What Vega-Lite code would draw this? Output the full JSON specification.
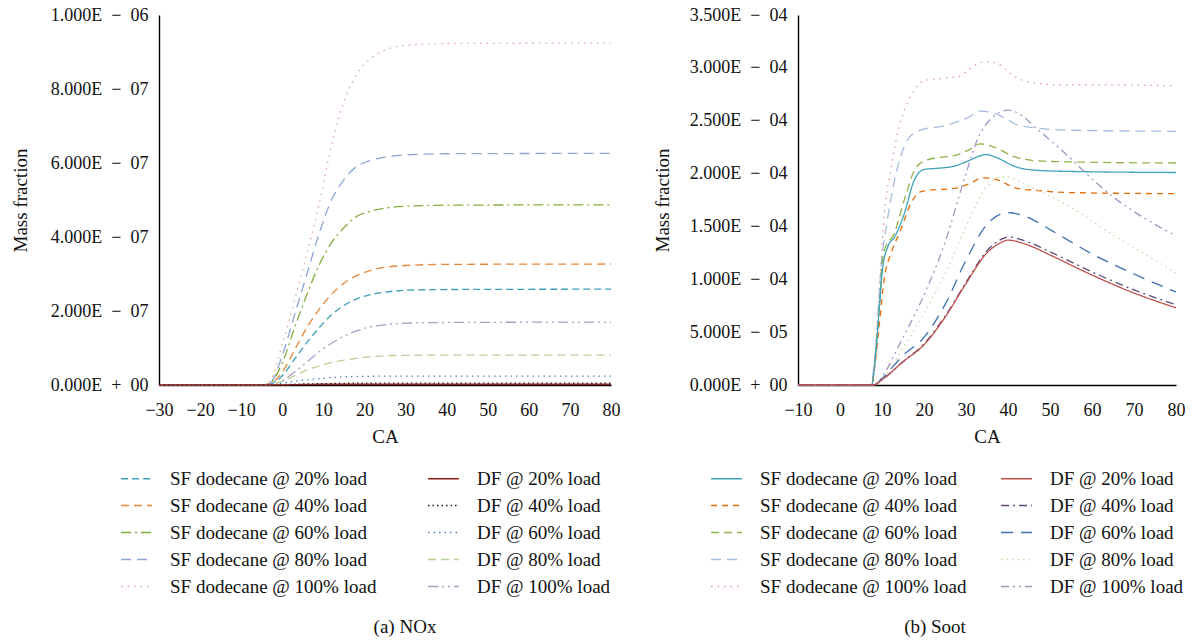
{
  "$schema": "https://vega.github.io/schema/vega-lite/v6.json",
  "background": "white",
  "padding": {"left": 11, "top": 6, "right": 0, "bottom": 0},
  "config": {
    "view": {"stroke": null},
    "font": "Liberation Serif",
    "axis": {"grid": false, "ticks": false, "domainColor": "#000", "domainWidth": 1.4, "labelFont": "Liberation Serif", "labelFontSize": 18, "labelColor": "#111", "labelOverlap": false, "labelFlush": false, "titleFont": "Liberation Serif", "titleFontSize": 19, "titleFontWeight": "normal", "titleColor": "#111"},
    "legend": {"labelFont": "Liberation Serif", "labelColor": "#111"}
  },
  "datasets": {
    "nox": [
      {"s":"SF dodecane @ 100% load","ca":-30,"v":0},{"s":"SF dodecane @ 100% load","ca":-5,"v":0},{"s":"SF dodecane @ 100% load","ca":-3,"v":1e-8},{"s":"SF dodecane @ 100% load","ca":0,"v":1.1e-7},{"s":"SF dodecane @ 100% load","ca":3,"v":2.3e-7},{"s":"SF dodecane @ 100% load","ca":6,"v":3.55e-7},{"s":"SF dodecane @ 100% load","ca":9,"v":4.9e-7},{"s":"SF dodecane @ 100% load","ca":12,"v":6.5e-7},{"s":"SF dodecane @ 100% load","ca":15,"v":7.65e-7},{"s":"SF dodecane @ 100% load","ca":18,"v":8.38e-7},{"s":"SF dodecane @ 100% load","ca":21,"v":8.78e-7},{"s":"SF dodecane @ 100% load","ca":25,"v":9.05e-7},{"s":"SF dodecane @ 100% load","ca":30,"v":9.18e-7},{"s":"SF dodecane @ 100% load","ca":40,"v":9.23e-7},{"s":"SF dodecane @ 100% load","ca":80,"v":9.24e-7},
      {"s":"SF dodecane @ 80% load","ca":-30,"v":0},{"s":"SF dodecane @ 80% load","ca":-5,"v":0},{"s":"SF dodecane @ 80% load","ca":-3,"v":5e-9},{"s":"SF dodecane @ 80% load","ca":0,"v":8e-8},{"s":"SF dodecane @ 80% load","ca":3,"v":1.9e-7},{"s":"SF dodecane @ 80% load","ca":6,"v":3.0e-7},{"s":"SF dodecane @ 80% load","ca":9,"v":4.1e-7},{"s":"SF dodecane @ 80% load","ca":12,"v":5.0e-7},{"s":"SF dodecane @ 80% load","ca":15,"v":5.55e-7},{"s":"SF dodecane @ 80% load","ca":18,"v":5.9e-7},{"s":"SF dodecane @ 80% load","ca":21,"v":6.05e-7},{"s":"SF dodecane @ 80% load","ca":25,"v":6.16e-7},{"s":"SF dodecane @ 80% load","ca":30,"v":6.22e-7},{"s":"SF dodecane @ 80% load","ca":40,"v":6.25e-7},{"s":"SF dodecane @ 80% load","ca":80,"v":6.26e-7},
      {"s":"SF dodecane @ 60% load","ca":-30,"v":0},{"s":"SF dodecane @ 60% load","ca":-5,"v":0},{"s":"SF dodecane @ 60% load","ca":-3,"v":5e-9},{"s":"SF dodecane @ 60% load","ca":0,"v":6e-8},{"s":"SF dodecane @ 60% load","ca":3,"v":1.55e-7},{"s":"SF dodecane @ 60% load","ca":6,"v":2.45e-7},{"s":"SF dodecane @ 60% load","ca":9,"v":3.25e-7},{"s":"SF dodecane @ 60% load","ca":12,"v":3.85e-7},{"s":"SF dodecane @ 60% load","ca":15,"v":4.25e-7},{"s":"SF dodecane @ 60% load","ca":18,"v":4.55e-7},{"s":"SF dodecane @ 60% load","ca":21,"v":4.68e-7},{"s":"SF dodecane @ 60% load","ca":25,"v":4.78e-7},{"s":"SF dodecane @ 60% load","ca":30,"v":4.83e-7},{"s":"SF dodecane @ 60% load","ca":40,"v":4.86e-7},{"s":"SF dodecane @ 60% load","ca":80,"v":4.87e-7},
      {"s":"SF dodecane @ 40% load","ca":-30,"v":0},{"s":"SF dodecane @ 40% load","ca":-5,"v":0},{"s":"SF dodecane @ 40% load","ca":-3,"v":3e-9},{"s":"SF dodecane @ 40% load","ca":0,"v":3.5e-8},{"s":"SF dodecane @ 40% load","ca":3,"v":9.5e-8},{"s":"SF dodecane @ 40% load","ca":6,"v":1.55e-7},{"s":"SF dodecane @ 40% load","ca":9,"v":2.05e-7},{"s":"SF dodecane @ 40% load","ca":12,"v":2.45e-7},{"s":"SF dodecane @ 40% load","ca":15,"v":2.75e-7},{"s":"SF dodecane @ 40% load","ca":18,"v":2.95e-7},{"s":"SF dodecane @ 40% load","ca":21,"v":3.08e-7},{"s":"SF dodecane @ 40% load","ca":25,"v":3.18e-7},{"s":"SF dodecane @ 40% load","ca":30,"v":3.23e-7},{"s":"SF dodecane @ 40% load","ca":40,"v":3.26e-7},{"s":"SF dodecane @ 40% load","ca":80,"v":3.27e-7},
      {"s":"SF dodecane @ 20% load","ca":-30,"v":0},{"s":"SF dodecane @ 20% load","ca":-5,"v":0},{"s":"SF dodecane @ 20% load","ca":-3,"v":2e-9},{"s":"SF dodecane @ 20% load","ca":0,"v":2.5e-8},{"s":"SF dodecane @ 20% load","ca":3,"v":7e-8},{"s":"SF dodecane @ 20% load","ca":6,"v":1.15e-7},{"s":"SF dodecane @ 20% load","ca":9,"v":1.55e-7},{"s":"SF dodecane @ 20% load","ca":12,"v":1.9e-7},{"s":"SF dodecane @ 20% load","ca":15,"v":2.15e-7},{"s":"SF dodecane @ 20% load","ca":18,"v":2.32e-7},{"s":"SF dodecane @ 20% load","ca":21,"v":2.43e-7},{"s":"SF dodecane @ 20% load","ca":25,"v":2.51e-7},{"s":"SF dodecane @ 20% load","ca":30,"v":2.56e-7},{"s":"SF dodecane @ 20% load","ca":40,"v":2.58e-7},{"s":"SF dodecane @ 20% load","ca":80,"v":2.59e-7},
      {"s":"DF @ 100% load","ca":-30,"v":0},{"s":"DF @ 100% load","ca":-5,"v":0},{"s":"DF @ 100% load","ca":-3,"v":1e-9},{"s":"DF @ 100% load","ca":0,"v":1.2e-8},{"s":"DF @ 100% load","ca":3,"v":3.5e-8},{"s":"DF @ 100% load","ca":6,"v":6.2e-8},{"s":"DF @ 100% load","ca":9,"v":9e-8},{"s":"DF @ 100% load","ca":12,"v":1.13e-7},{"s":"DF @ 100% load","ca":15,"v":1.32e-7},{"s":"DF @ 100% load","ca":18,"v":1.46e-7},{"s":"DF @ 100% load","ca":21,"v":1.56e-7},{"s":"DF @ 100% load","ca":25,"v":1.63e-7},{"s":"DF @ 100% load","ca":30,"v":1.67e-7},{"s":"DF @ 100% load","ca":40,"v":1.69e-7},{"s":"DF @ 100% load","ca":80,"v":1.7e-7},
      {"s":"DF @ 80% load","ca":-30,"v":0},{"s":"DF @ 80% load","ca":-5,"v":0},{"s":"DF @ 80% load","ca":-3,"v":1e-9},{"s":"DF @ 80% load","ca":0,"v":1e-8},{"s":"DF @ 80% load","ca":3,"v":2.5e-8},{"s":"DF @ 80% load","ca":6,"v":4e-8},{"s":"DF @ 80% load","ca":9,"v":5.2e-8},{"s":"DF @ 80% load","ca":12,"v":6.1e-8},{"s":"DF @ 80% load","ca":15,"v":6.7e-8},{"s":"DF @ 80% load","ca":18,"v":7.2e-8},{"s":"DF @ 80% load","ca":21,"v":7.6e-8},{"s":"DF @ 80% load","ca":25,"v":7.9e-8},{"s":"DF @ 80% load","ca":30,"v":8e-8},{"s":"DF @ 80% load","ca":40,"v":8.1e-8},{"s":"DF @ 80% load","ca":80,"v":8.1e-8},
      {"s":"DF @ 60% load","ca":-30,"v":0},{"s":"DF @ 60% load","ca":-5,"v":0},{"s":"DF @ 60% load","ca":-3,"v":0},{"s":"DF @ 60% load","ca":0,"v":5e-9},{"s":"DF @ 60% load","ca":3,"v":1e-8},{"s":"DF @ 60% load","ca":6,"v":1.4e-8},{"s":"DF @ 60% load","ca":9,"v":1.7e-8},{"s":"DF @ 60% load","ca":12,"v":2e-8},{"s":"DF @ 60% load","ca":15,"v":2.2e-8},{"s":"DF @ 60% load","ca":18,"v":2.3e-8},{"s":"DF @ 60% load","ca":21,"v":2.35e-8},{"s":"DF @ 60% load","ca":25,"v":2.4e-8},{"s":"DF @ 60% load","ca":30,"v":2.4e-8},{"s":"DF @ 60% load","ca":40,"v":2.4e-8},{"s":"DF @ 60% load","ca":80,"v":2.4e-8},
      {"s":"DF @ 40% load","ca":-30,"v":0},{"s":"DF @ 40% load","ca":-5,"v":0},{"s":"DF @ 40% load","ca":-3,"v":0},{"s":"DF @ 40% load","ca":0,"v":1e-9},{"s":"DF @ 40% load","ca":3,"v":2e-9},{"s":"DF @ 40% load","ca":6,"v":3e-9},{"s":"DF @ 40% load","ca":9,"v":3.5e-9},{"s":"DF @ 40% load","ca":12,"v":4e-9},{"s":"DF @ 40% load","ca":15,"v":4.5e-9},{"s":"DF @ 40% load","ca":18,"v":5e-9},{"s":"DF @ 40% load","ca":21,"v":5e-9},{"s":"DF @ 40% load","ca":25,"v":5e-9},{"s":"DF @ 40% load","ca":30,"v":5e-9},{"s":"DF @ 40% load","ca":40,"v":5e-9},{"s":"DF @ 40% load","ca":80,"v":5e-9},
      {"s":"DF @ 20% load","ca":-30,"v":0},{"s":"DF @ 20% load","ca":-5,"v":0},{"s":"DF @ 20% load","ca":-3,"v":0},{"s":"DF @ 20% load","ca":0,"v":0},{"s":"DF @ 20% load","ca":3,"v":1e-9},{"s":"DF @ 20% load","ca":6,"v":1.5e-9},{"s":"DF @ 20% load","ca":9,"v":2e-9},{"s":"DF @ 20% load","ca":12,"v":2e-9},{"s":"DF @ 20% load","ca":15,"v":2e-9},{"s":"DF @ 20% load","ca":18,"v":2e-9},{"s":"DF @ 20% load","ca":21,"v":2e-9},{"s":"DF @ 20% load","ca":25,"v":2e-9},{"s":"DF @ 20% load","ca":30,"v":2e-9},{"s":"DF @ 20% load","ca":40,"v":2e-9},{"s":"DF @ 20% load","ca":80,"v":2e-9}
    ],
    "soot": [
      {"s":"SF dodecane @ 100% load","ca":-10,"v":0},{"s":"SF dodecane @ 100% load","ca":7.5,"v":0},{"s":"SF dodecane @ 100% load","ca":8.5,"v":3.5e-5},{"s":"SF dodecane @ 100% load","ca":9.5,"v":1.0e-4},{"s":"SF dodecane @ 100% load","ca":10.6,"v":1.63e-4},{"s":"SF dodecane @ 100% load","ca":12.2,"v":2.06e-4},{"s":"SF dodecane @ 100% load","ca":13.7,"v":2.38e-4},{"s":"SF dodecane @ 100% load","ca":15.3,"v":2.6e-4},{"s":"SF dodecane @ 100% load","ca":17.7,"v":2.79e-4},{"s":"SF dodecane @ 100% load","ca":20.1,"v":2.88e-4},{"s":"SF dodecane @ 100% load","ca":22,"v":2.89e-4},{"s":"SF dodecane @ 100% load","ca":26.8,"v":2.91e-4},{"s":"SF dodecane @ 100% load","ca":28.4,"v":2.92e-4},{"s":"SF dodecane @ 100% load","ca":30.8,"v":2.99e-4},{"s":"SF dodecane @ 100% load","ca":34.7,"v":3.06e-4},{"s":"SF dodecane @ 100% load","ca":37.5,"v":3.04e-4},{"s":"SF dodecane @ 100% load","ca":41.5,"v":2.92e-4},{"s":"SF dodecane @ 100% load","ca":44.6,"v":2.87e-4},{"s":"SF dodecane @ 100% load","ca":51.7,"v":2.84e-4},{"s":"SF dodecane @ 100% load","ca":59.6,"v":2.84e-4},{"s":"SF dodecane @ 100% load","ca":80,"v":2.83e-4},
      {"s":"SF dodecane @ 80% load","ca":-10,"v":0},{"s":"SF dodecane @ 80% load","ca":7.3,"v":0},{"s":"SF dodecane @ 80% load","ca":8.5,"v":3.5e-5},{"s":"SF dodecane @ 80% load","ca":9.8,"v":1.12e-4},{"s":"SF dodecane @ 80% load","ca":11.4,"v":1.59e-4},{"s":"SF dodecane @ 80% load","ca":13.7,"v":2.06e-4},{"s":"SF dodecane @ 80% load","ca":16.1,"v":2.32e-4},{"s":"SF dodecane @ 80% load","ca":18.5,"v":2.4e-4},{"s":"SF dodecane @ 80% load","ca":20.9,"v":2.43e-4},{"s":"SF dodecane @ 80% load","ca":23.2,"v":2.44e-4},{"s":"SF dodecane @ 80% load","ca":27.2,"v":2.48e-4},{"s":"SF dodecane @ 80% load","ca":30.5,"v":2.53e-4},{"s":"SF dodecane @ 80% load","ca":33.5,"v":2.59e-4},{"s":"SF dodecane @ 80% load","ca":36.7,"v":2.57e-4},{"s":"SF dodecane @ 80% load","ca":39.5,"v":2.52e-4},{"s":"SF dodecane @ 80% load","ca":42.2,"v":2.46e-4},{"s":"SF dodecane @ 80% load","ca":47,"v":2.43e-4},{"s":"SF dodecane @ 80% load","ca":55,"v":2.41e-4},{"s":"SF dodecane @ 80% load","ca":80,"v":2.4e-4},
      {"s":"SF dodecane @ 60% load","ca":-10,"v":0},{"s":"SF dodecane @ 60% load","ca":7.5,"v":0},{"s":"SF dodecane @ 60% load","ca":8.5,"v":3e-5},{"s":"SF dodecane @ 60% load","ca":9.3,"v":7e-5},{"s":"SF dodecane @ 60% load","ca":10.2,"v":1.21e-4},{"s":"SF dodecane @ 60% load","ca":11.4,"v":1.35e-4},{"s":"SF dodecane @ 60% load","ca":12.5,"v":1.4e-4},{"s":"SF dodecane @ 60% load","ca":15.3,"v":1.75e-4},{"s":"SF dodecane @ 60% load","ca":17.7,"v":2.03e-4},{"s":"SF dodecane @ 60% load","ca":20.1,"v":2.12e-4},{"s":"SF dodecane @ 60% load","ca":23.2,"v":2.15e-4},{"s":"SF dodecane @ 60% load","ca":27.2,"v":2.17e-4},{"s":"SF dodecane @ 60% load","ca":30.5,"v":2.22e-4},{"s":"SF dodecane @ 60% load","ca":33.5,"v":2.28e-4},{"s":"SF dodecane @ 60% load","ca":36.7,"v":2.25e-4},{"s":"SF dodecane @ 60% load","ca":41.5,"v":2.16e-4},{"s":"SF dodecane @ 60% load","ca":47,"v":2.12e-4},{"s":"SF dodecane @ 60% load","ca":55,"v":2.11e-4},{"s":"SF dodecane @ 60% load","ca":80,"v":2.1e-4},
      {"s":"SF dodecane @ 40% load","ca":-10,"v":0},{"s":"SF dodecane @ 40% load","ca":7.5,"v":0},{"s":"SF dodecane @ 40% load","ca":8.5,"v":2.5e-5},{"s":"SF dodecane @ 40% load","ca":9.3,"v":5.5e-5},{"s":"SF dodecane @ 40% load","ca":10.6,"v":1.02e-4},{"s":"SF dodecane @ 40% load","ca":12.2,"v":1.25e-4},{"s":"SF dodecane @ 40% load","ca":14.5,"v":1.47e-4},{"s":"SF dodecane @ 40% load","ca":16.9,"v":1.72e-4},{"s":"SF dodecane @ 40% load","ca":19.3,"v":1.83e-4},{"s":"SF dodecane @ 40% load","ca":20.9,"v":1.84e-4},{"s":"SF dodecane @ 40% load","ca":27.2,"v":1.86e-4},{"s":"SF dodecane @ 40% load","ca":30.5,"v":1.9e-4},{"s":"SF dodecane @ 40% load","ca":34.3,"v":1.96e-4},{"s":"SF dodecane @ 40% load","ca":36.7,"v":1.95e-4},{"s":"SF dodecane @ 40% load","ca":42.2,"v":1.86e-4},{"s":"SF dodecane @ 40% load","ca":47,"v":1.84e-4},{"s":"SF dodecane @ 40% load","ca":55,"v":1.82e-4},{"s":"SF dodecane @ 40% load","ca":80,"v":1.81e-4},
      {"s":"SF dodecane @ 20% load","ca":-10,"v":0},{"s":"SF dodecane @ 20% load","ca":7.5,"v":0},{"s":"SF dodecane @ 20% load","ca":8.5,"v":3e-5},{"s":"SF dodecane @ 20% load","ca":9.3,"v":7e-5},{"s":"SF dodecane @ 20% load","ca":10.2,"v":1.12e-4},{"s":"SF dodecane @ 20% load","ca":11.4,"v":1.31e-4},{"s":"SF dodecane @ 20% load","ca":13,"v":1.4e-4},{"s":"SF dodecane @ 20% load","ca":15.3,"v":1.62e-4},{"s":"SF dodecane @ 20% load","ca":17.7,"v":1.94e-4},{"s":"SF dodecane @ 20% load","ca":20.1,"v":2.04e-4},{"s":"SF dodecane @ 20% load","ca":23.2,"v":2.05e-4},{"s":"SF dodecane @ 20% load","ca":27.2,"v":2.07e-4},{"s":"SF dodecane @ 20% load","ca":30.5,"v":2.12e-4},{"s":"SF dodecane @ 20% load","ca":33.5,"v":2.17e-4},{"s":"SF dodecane @ 20% load","ca":35,"v":2.18e-4},{"s":"SF dodecane @ 20% load","ca":36.7,"v":2.16e-4},{"s":"SF dodecane @ 20% load","ca":42.2,"v":2.06e-4},{"s":"SF dodecane @ 20% load","ca":47,"v":2.03e-4},{"s":"SF dodecane @ 20% load","ca":55,"v":2.02e-4},{"s":"SF dodecane @ 20% load","ca":80,"v":2.01e-4},
      {"s":"DF @ 100% load","ca":-10,"v":0},{"s":"DF @ 100% load","ca":8,"v":0},{"s":"DF @ 100% load","ca":10,"v":8e-6},{"s":"DF @ 100% load","ca":15,"v":4.5e-5},{"s":"DF @ 100% load","ca":20,"v":8.5e-5},{"s":"DF @ 100% load","ca":25,"v":1.35e-4},{"s":"DF @ 100% load","ca":30,"v":2.0e-4},{"s":"DF @ 100% load","ca":33,"v":2.35e-4},{"s":"DF @ 100% load","ca":36,"v":2.52e-4},{"s":"DF @ 100% load","ca":40,"v":2.6e-4},{"s":"DF @ 100% load","ca":42,"v":2.58e-4},{"s":"DF @ 100% load","ca":47,"v":2.42e-4},{"s":"DF @ 100% load","ca":55,"v":2.14e-4},{"s":"DF @ 100% load","ca":60,"v":1.95e-4},{"s":"DF @ 100% load","ca":65,"v":1.78e-4},{"s":"DF @ 100% load","ca":70,"v":1.64e-4},{"s":"DF @ 100% load","ca":75,"v":1.52e-4},{"s":"DF @ 100% load","ca":80,"v":1.41e-4},
      {"s":"DF @ 80% load","ca":-10,"v":0},{"s":"DF @ 80% load","ca":8,"v":0},{"s":"DF @ 80% load","ca":10,"v":6e-6},{"s":"DF @ 80% load","ca":15,"v":3.5e-5},{"s":"DF @ 80% load","ca":20,"v":6.8e-5},{"s":"DF @ 80% load","ca":25,"v":1.05e-4},{"s":"DF @ 80% load","ca":30,"v":1.5e-4},{"s":"DF @ 80% load","ca":35,"v":1.88e-4},{"s":"DF @ 80% load","ca":39,"v":1.97e-4},{"s":"DF @ 80% load","ca":45,"v":1.88e-4},{"s":"DF @ 80% load","ca":55,"v":1.68e-4},{"s":"DF @ 80% load","ca":65,"v":1.42e-4},{"s":"DF @ 80% load","ca":72,"v":1.25e-4},{"s":"DF @ 80% load","ca":80,"v":1.06e-4},
      {"s":"DF @ 60% load","ca":-10,"v":0},{"s":"DF @ 60% load","ca":8,"v":0},{"s":"DF @ 60% load","ca":10,"v":6e-6},{"s":"DF @ 60% load","ca":15,"v":2.8e-5},{"s":"DF @ 60% load","ca":20,"v":4.5e-5},{"s":"DF @ 60% load","ca":25,"v":7.6e-5},{"s":"DF @ 60% load","ca":30,"v":1.18e-4},{"s":"DF @ 60% load","ca":35,"v":1.52e-4},{"s":"DF @ 60% load","ca":40,"v":1.63e-4},{"s":"DF @ 60% load","ca":45,"v":1.58e-4},{"s":"DF @ 60% load","ca":50,"v":1.47e-4},{"s":"DF @ 60% load","ca":60,"v":1.24e-4},{"s":"DF @ 60% load","ca":70,"v":1.05e-4},{"s":"DF @ 60% load","ca":80,"v":8.8e-5},
      {"s":"DF @ 40% load","ca":-10,"v":0},{"s":"DF @ 40% load","ca":8,"v":0},{"s":"DF @ 40% load","ca":10,"v":5e-6},{"s":"DF @ 40% load","ca":15,"v":2.2e-5},{"s":"DF @ 40% load","ca":20,"v":3.9e-5},{"s":"DF @ 40% load","ca":25,"v":6.5e-5},{"s":"DF @ 40% load","ca":30,"v":9.7e-5},{"s":"DF @ 40% load","ca":35,"v":1.27e-4},{"s":"DF @ 40% load","ca":38,"v":1.37e-4},{"s":"DF @ 40% load","ca":40,"v":1.4e-4},{"s":"DF @ 40% load","ca":45,"v":1.35e-4},{"s":"DF @ 40% load","ca":50,"v":1.26e-4},{"s":"DF @ 40% load","ca":60,"v":1.07e-4},{"s":"DF @ 40% load","ca":70,"v":9e-5},{"s":"DF @ 40% load","ca":80,"v":7.6e-5},
      {"s":"DF @ 20% load","ca":-10,"v":0},{"s":"DF @ 20% load","ca":8,"v":0},{"s":"DF @ 20% load","ca":10,"v":5e-6},{"s":"DF @ 20% load","ca":15,"v":2.2e-5},{"s":"DF @ 20% load","ca":20,"v":3.8e-5},{"s":"DF @ 20% load","ca":25,"v":6.4e-5},{"s":"DF @ 20% load","ca":30,"v":9.6e-5},{"s":"DF @ 20% load","ca":35,"v":1.25e-4},{"s":"DF @ 20% load","ca":38,"v":1.34e-4},{"s":"DF @ 20% load","ca":40,"v":1.37e-4},{"s":"DF @ 20% load","ca":45,"v":1.32e-4},{"s":"DF @ 20% load","ca":50,"v":1.23e-4},{"s":"DF @ 20% load","ca":60,"v":1.04e-4},{"s":"DF @ 20% load","ca":70,"v":8.7e-5},{"s":"DF @ 20% load","ca":80,"v":7.3e-5}
    ]
  },
  "hconcat": [
    {
      "width": 452,
      "height": 370,
      "data": {"name": "nox"},
      "title": {"text": "(a)  NOx", "orient": "bottom", "anchor": "middle", "fontSize": 19, "fontWeight": "normal", "font": "Liberation Serif", "color": "#111", "offset": 21, "dx": 20},
      "mark": {"type": "line", "strokeWidth": 1.3, "interpolate": "monotone"},
      "encoding": {
        "x": {"field": "ca", "type": "quantitative", "scale": {"domain": [-30, 80], "nice": false}, "axis": {"values": [-30, -20, -10, 0, 10, 20, 30, 40, 50, 60, 70, 80], "title": "CA", "labelPadding": 16, "titlePadding": 8}},
        "y": {"field": "v", "type": "quantitative", "scale": {"domain": [0, 1e-6], "nice": false}, "axis": {"values": [0, 2e-7, 4e-7, 6e-7, 8e-7, 1e-6], "title": "Mass fraction", "labelPadding": 11, "titlePadding": 20, "labelExpr": "datum.value == 0 ? '0.000E\u2002+\u200200' : format(datum.value / pow(10, floor(log(datum.value) / LN10 + 1e-9)), '.3f') + 'E\u2002\u2212\u20020' + (-floor(log(datum.value) / LN10 + 1e-9))"}},
        "color": {"field": "s", "type": "nominal",
          "scale": {"domain": ["SF dodecane @ 20% load", "SF dodecane @ 40% load", "SF dodecane @ 60% load", "SF dodecane @ 80% load", "SF dodecane @ 100% load", "DF @ 20% load", "DF @ 40% load", "DF @ 60% load", "DF @ 80% load", "DF @ 100% load"],
                    "range": ["#3E9EB8", "#E8873A", "#86AC3E", "#8EA6D6", "#E3A3A3", "#8B1F1F", "#1A1A1A", "#4F81BD", "#B8CF96", "#AE9BC6"]},
          "legend": {"orient": "none", "legendX": -39, "legendY": 447, "columns": 2, "title": null, "symbolType": "stroke", "symbolSize": 955, "symbolStrokeWidth": 1.5, "labelFontSize": 19, "labelLimit": 400, "labelOffset": 17, "rowPadding": 0, "columnPadding": 48, "padding": 0}},
        "strokeDash": {"field": "s", "type": "nominal",
          "scale": {"domain": ["SF dodecane @ 20% load", "SF dodecane @ 40% load", "SF dodecane @ 60% load", "SF dodecane @ 80% load", "SF dodecane @ 100% load", "DF @ 20% load", "DF @ 40% load", "DF @ 60% load", "DF @ 80% load", "DF @ 100% load"],
                    "range": [[7, 4], [8, 5], [10, 4, 2, 4], [10, 6], [1.5, 5], [1, 0], [1.5, 3], [1.5, 4], [8, 5], [10, 4, 2, 4, 2, 4]]},
          "legend": {"orient": "none", "legendX": -39, "legendY": 447, "columns": 2, "title": null, "symbolType": "stroke", "symbolSize": 955, "symbolStrokeWidth": 1.5, "labelFontSize": 19, "labelLimit": 400, "labelOffset": 17, "rowPadding": 0, "columnPadding": 48, "padding": 0}}
      }
    },
    {
      "width": 378,
      "height": 370,
      "data": {"name": "soot"},
      "title": {"text": "(b)  Soot", "orient": "bottom", "anchor": "middle", "fontSize": 19, "fontWeight": "normal", "font": "Liberation Serif", "color": "#111", "offset": 21, "dx": -52},
      "mark": {"type": "line", "strokeWidth": 1.3, "interpolate": "monotone"},
      "encoding": {
        "x": {"field": "ca", "type": "quantitative", "scale": {"domain": [-10, 80], "nice": false}, "axis": {"values": [-10, 0, 10, 20, 30, 40, 50, 60, 70, 80], "title": "CA", "labelPadding": 16, "titlePadding": 8}},
        "y": {"field": "v", "type": "quantitative", "scale": {"domain": [0, 3.5e-4], "nice": false}, "axis": {"values": [0, 5e-5, 1e-4, 1.5e-4, 2e-4, 2.5e-4, 3e-4, 3.5e-4], "title": "Mass fraction", "labelPadding": 11, "titlePadding": 17, "labelExpr": "datum.value == 0 ? '0.000E\u2002+\u200200' : format(datum.value / pow(10, floor(log(datum.value) / LN10 + 1e-9)), '.3f') + 'E\u2002\u2212\u20020' + (-floor(log(datum.value) / LN10 + 1e-9))"}},
        "color": {"field": "s", "type": "nominal",
          "scale": {"domain": ["SF dodecane @ 20% load", "SF dodecane @ 40% load", "SF dodecane @ 60% load", "SF dodecane @ 80% load", "SF dodecane @ 100% load", "DF @ 20% load", "DF @ 40% load", "DF @ 60% load", "DF @ 80% load", "DF @ 100% load"],
                    "range": ["#3EA2B8", "#E46C0A", "#8DB348", "#A5BBE0", "#E39A9A", "#C0504D", "#604A7B", "#3F6FB0", "#C9D9A6", "#A895C2"]},
          "legend": {"orient": "none", "legendX": -88, "legendY": 447, "columns": 2, "title": null, "symbolType": "stroke", "symbolSize": 955, "symbolStrokeWidth": 1.5, "labelFontSize": 19, "labelLimit": 400, "labelOffset": 17, "rowPadding": 0, "columnPadding": 31, "padding": 0}},
        "strokeDash": {"field": "s", "type": "nominal",
          "scale": {"domain": ["SF dodecane @ 20% load", "SF dodecane @ 40% load", "SF dodecane @ 60% load", "SF dodecane @ 80% load", "SF dodecane @ 100% load", "DF @ 20% load", "DF @ 40% load", "DF @ 60% load", "DF @ 80% load", "DF @ 100% load"],
                    "range": [[1, 0], [6, 5], [8, 5], [10, 6], [1.5, 5], [1, 0], [8, 4, 2, 4], [12, 8], [1.5, 4], [8, 4, 2, 4, 2, 4]]},
          "legend": {"orient": "none", "legendX": -88, "legendY": 447, "columns": 2, "title": null, "symbolType": "stroke", "symbolSize": 955, "symbolStrokeWidth": 1.5, "labelFontSize": 19, "labelLimit": 400, "labelOffset": 17, "rowPadding": 0, "columnPadding": 31, "padding": 0}}
      }
    }
  ],
  "spacing": 187,
  "bounds": "flush",
  "resolve": {"scale": {"x": "independent", "y": "independent", "color": "independent", "strokeDash": "independent"}, "axis": {"x": "independent", "y": "independent"}, "legend": {"color": "independent", "strokeDash": "independent"}}
}
